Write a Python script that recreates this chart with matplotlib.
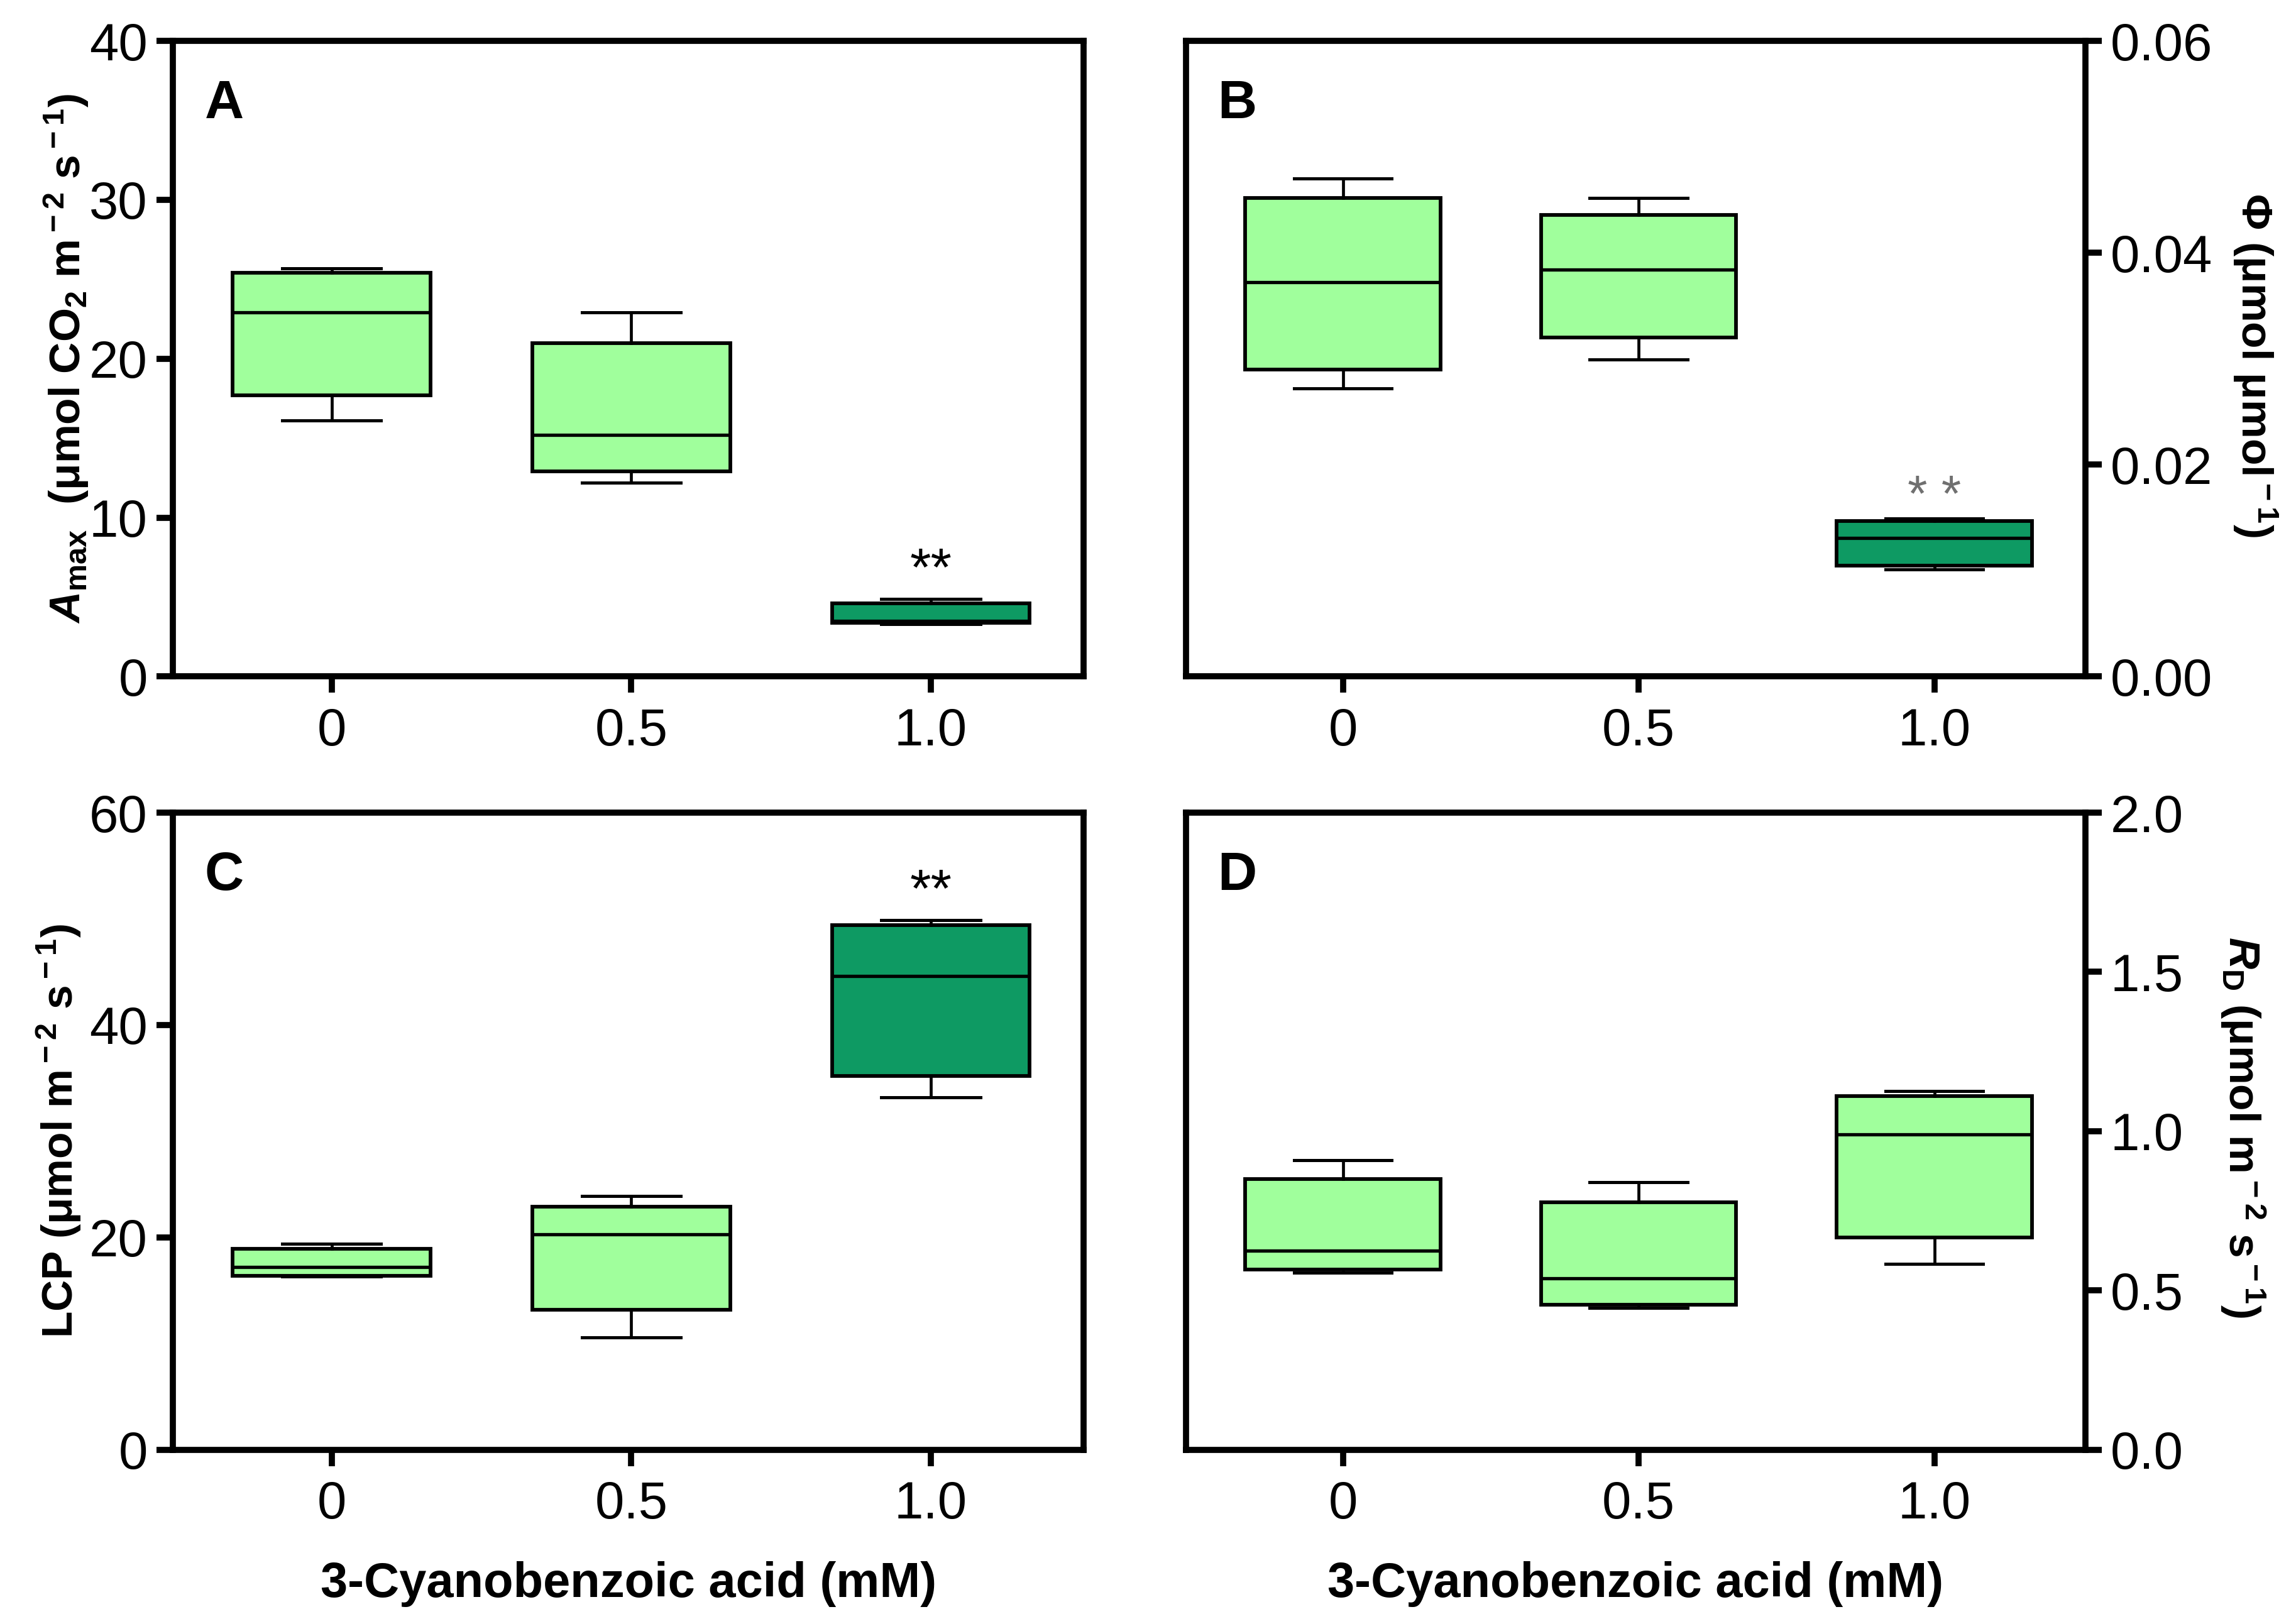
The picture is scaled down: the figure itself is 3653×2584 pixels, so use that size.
import matplotlib
matplotlib.use("Agg")
import matplotlib.pyplot as plt

# categories (3-Cyanobenzoic acid, mM)
categories = ["0", "0.5", "1.0"]

# box statistics: lower whisker, q1, median, q3, upper whisker
amax_lo = [16.1, 12.2, 3.3]
amax_q1 = [17.7, 12.9, 3.4]
amax_med = [22.9, 15.2, 3.5]
amax_q3 = [25.4, 21.0, 4.6]
amax_hi = [25.7, 22.9, 4.9]

phi_lo = [0.0272, 0.0299, 0.0101]
phi_q1 = [0.0290, 0.0320, 0.0105]
phi_med = [0.0372, 0.0384, 0.0131]
phi_q3 = [0.0452, 0.0436, 0.0147]
phi_hi = [0.0470, 0.0452, 0.0149]

lcp_lo = [16.3, 10.6, 33.2]
lcp_q1 = [16.4, 13.2, 35.2]
lcp_med = [17.2, 20.3, 44.6]
lcp_q3 = [18.9, 22.9, 49.4]
lcp_hi = [19.4, 23.9, 49.9]

rd_lo = [0.556, 0.446, 0.584]
rd_q1 = [0.565, 0.455, 0.667]
rd_med = [0.625, 0.538, 0.990]
rd_q3 = [0.850, 0.777, 1.110]
rd_hi = [0.910, 0.840, 1.126]

LIGHT = "#a0ff9c"
DARK = "#0e9a63"
box_colors = [LIGHT, LIGHT, DARK, LIGHT, LIGHT, DARK, LIGHT, LIGHT, DARK, LIGHT, LIGHT, LIGHT]

plt.rcParams["font.family"] = ["Liberation Sans", "DejaVu Sans"]
plt.rcParams["mathtext.fontset"] = "custom"
plt.rcParams["mathtext.rm"] = "Liberation Sans:bold"
plt.rcParams["mathtext.it"] = "Liberation Sans:italic:bold"
plt.rcParams["mathtext.bf"] = "Liberation Sans:bold"

TICK_FONT = dict(family=["Liberation Sans", "DejaVu Sans"], size=60)

fig = plt.figure(figsize=(36.53, 25.84), dpi=100)

def make_stats(lo, q1, med, q3, hi):
    return [dict(whislo=lo[i], q1=q1[i], med=med[i], q3=q3[i], whishi=hi[i], fliers=[])
            for i in range(len(lo))]


def panel(rect, stats, colors, ylim, yticks, yticklabels, letter, ylabel,
          right=False, xlabel=None, ylabel_xy=(-0.12, 0.5)):
    ax = fig.add_axes(rect)
    bp = ax.bxp(stats, positions=[0, 1, 2], widths=0.66, capwidths=0.33,
                patch_artist=True, showfliers=False,
                boxprops=dict(linewidth=4.2, edgecolor="black"),
                whiskerprops=dict(linewidth=3.4, color="black"),
                capprops=dict(linewidth=3.6, color="black"),
                medianprops=dict(linewidth=3.8, color="black"))
    for patch, c in zip(bp["boxes"], colors):
        patch.set_facecolor(c)

    ax.set_xlim(-0.53, 2.51)
    ax.set_ylim(*ylim)
    ax.set_xticks([0, 1, 2])
    ax.set_xticklabels(categories, fontdict=TICK_FONT)
    ax.set_yticks(yticks)
    ax.set_yticklabels(yticklabels, fontdict=TICK_FONT)
    for sp in ax.spines.values():
        sp.set_linewidth(7)
        sp.set_zorder(5)
    ax.tick_params(axis="both", which="major", length=19, width=7, direction="out")
    ax.tick_params(axis="x", pad=16)
    ax.tick_params(axis="y", pad=10)
    if right:
        ax.yaxis.tick_right()
        ax.yaxis.set_label_position("right")
        ax.set_ylabel(ylabel, fontsize=50, fontweight="bold", rotation=270, va="center")
    else:
        ax.set_ylabel(ylabel, fontsize=50, fontweight="bold", va="center")
    ax.yaxis.set_label_coords(*ylabel_xy)
    if xlabel:
        ax.set_xlabel(xlabel, fontsize=56, fontweight="bold")
        ax.xaxis.set_label_coords(0.5, -0.175)
    ax.text(0.035, 0.94, letter, transform=ax.transAxes, ha="left", va="top",
            fontsize=62, fontweight="bold")
    return ax


ax_a = panel([0.0753, 0.5834, 0.3967, 0.3914],
             make_stats(amax_lo, amax_q1, amax_med, amax_q3, amax_hi), box_colors[0:3],
             (0, 40), [0, 10, 20, 30, 40], ["0", "10", "20", "30", "40"], "A",
             r"$A_{\rm max}$  (μmol CO$_{\rm 2}$ m$^{\rm -2}$ s$^{\rm -1}$)",
             ylabel_xy=(-0.117, 0.5))
ax_a.text(2, 6.6, "**", ha="center", va="center", fontsize=62, color="black")

ax_b = panel([0.5166, 0.5834, 0.3916, 0.3914],
             make_stats(phi_lo, phi_q1, phi_med, phi_q3, phi_hi), box_colors[3:6],
             (0, 0.06), [0, 0.02, 0.04, 0.06], ["0.00", "0.02", "0.04", "0.06"], "B",
             r"Φ (μmol μmol$^{\rm -1}$)", right=True, ylabel_xy=(1.189, 0.49))
ax_b.text(2, 0.0169, "* *", ha="center", va="center", fontsize=58, color="#707070")

ax_c = panel([0.0753, 0.1073, 0.3967, 0.3923],
             make_stats(lcp_lo, lcp_q1, lcp_med, lcp_q3, lcp_hi), box_colors[6:9],
             (0, 60), [0, 20, 40, 60], ["0", "20", "40", "60"], "C",
             r"LCP (μmol m$^{\rm -2}$ s$^{\rm -1}$)", xlabel="3-Cyanobenzoic acid (mM)",
             ylabel_xy=(-0.125, 0.5))
ax_c.text(2, 52.4, "**", ha="center", va="center", fontsize=62, color="black")

ax_d = panel([0.5166, 0.1073, 0.3916, 0.3923],
             make_stats(rd_lo, rd_q1, rd_med, rd_q3, rd_hi), box_colors[9:12],
             (0, 2.0), [0, 0.5, 1.0, 1.5, 2.0], ["0.0", "0.5", "1.0", "1.5", "2.0"], "D",
             r"$R_{\rm D}$ (μmol m$^{\rm -2}$ s$^{\rm -1}$)", right=True,
             xlabel="3-Cyanobenzoic acid (mM)", ylabel_xy=(1.175, 0.506))

fig.savefig("out.png", dpi=100)
plt.close(fig)
